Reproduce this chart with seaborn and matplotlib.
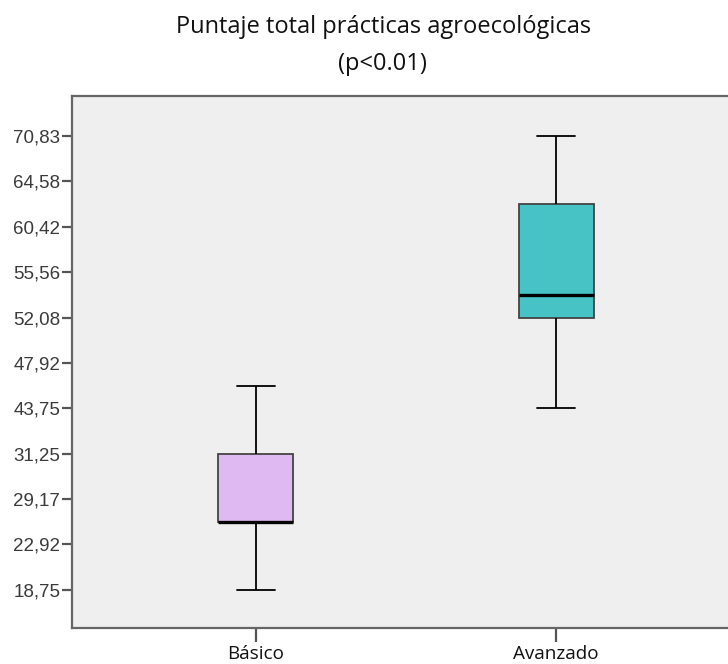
import numpy as np
import pandas as pd
import matplotlib
matplotlib.use("Agg")
import matplotlib.pyplot as plt
import seaborn as sns

# Axis tick values (SPSS-style ordinal spacing: each tick is one step apart)
tick_values = [18.75, 22.92, 29.17, 31.25, 43.75, 47.92, 52.08, 55.56, 60.42, 64.58, 70.83]
tick_labels = ["18,75", "22,92", "29,17", "31,25", "43,75", "47,92",
               "52,08", "55,56", "60,42", "64,58", "70,83"]

groups = ["Básico", "Avanzado"]
# five-number summaries: min, Q1, median, Q3, max
basico_stats = [18.75, 26.04, 26.04, 31.25, 45.83]
avanzado_stats = [43.75, 52.08, 53.82, 62.50, 70.83]
colors = {"Básico": "#dfbaf2", "Avanzado": "#48c3c5"}

tick_pos = np.arange(len(tick_values))


def to_pos(v):
    return np.interp(v, tick_values, tick_pos)


df = pd.DataFrame({
    "grupo": np.repeat(groups, 5),
    "pos": np.concatenate([to_pos(basico_stats), to_pos(avanzado_stats)]),
})

sns.set_theme(style="white")
fig = plt.figure(figsize=(7.28, 6.64), dpi=100)
ax = fig.add_axes([72 / 728, 36 / 664, 668 / 728, 532 / 664])
ax.set_facecolor("#efefef")

sns.boxplot(
    data=df, x="grupo", y="pos", hue="grupo", order=groups, palette=colors,
    saturation=1, legend=False, whis=(0, 100), width=0.25,
    linecolor="#222222", linewidth=1.3,
    medianprops={"color": "black", "linewidth": 2.4},
    whiskerprops={"color": "black", "linewidth": 1.3},
    capprops={"color": "black", "linewidth": 1.3},
    boxprops={"edgecolor": "#444444", "linewidth": 1.3},
    ax=ax,
)

ax.set_xlim(-0.613, 1.613)
ax.set_ylim(-0.84, 10.88)
ax.set_yticks(tick_pos)
ax.set_yticklabels(tick_labels, fontfamily="Liberation Sans", fontsize=13.5, color="#3a3a3a")
ax.set_xticks([0, 1])
ax.set_xticklabels(groups, fontfamily="Open Sans", fontsize=13.6, color="#111111")
ax.tick_params(axis="y", which="major", left=True, length=7.5, width=1.6, color="#555555", pad=1)
ax.tick_params(axis="x", which="major", bottom=True, length=10, width=1.6, color="#555555", pad=2)
ax.set_xlabel("")
ax.set_ylabel("")

for side in ["left", "top", "bottom"]:
    ax.spines[side].set_visible(True)
    ax.spines[side].set_color("#666666")
    ax.spines[side].set_linewidth(1.6)
ax.spines["right"].set_visible(False)

fig.text(384 / 728, 1 - 33 / 664, "Puntaje total prácticas agroecológicas", ha="center",
         va="baseline", fontfamily="Open Sans", fontsize=17, color="#111111")
fig.text(382 / 728, 1 - 70 / 664, "(p<0.01)", ha="center", va="baseline",
         fontfamily="Open Sans", fontsize=17, color="#111111")

fig.savefig("out.png", dpi=100, facecolor="white")
